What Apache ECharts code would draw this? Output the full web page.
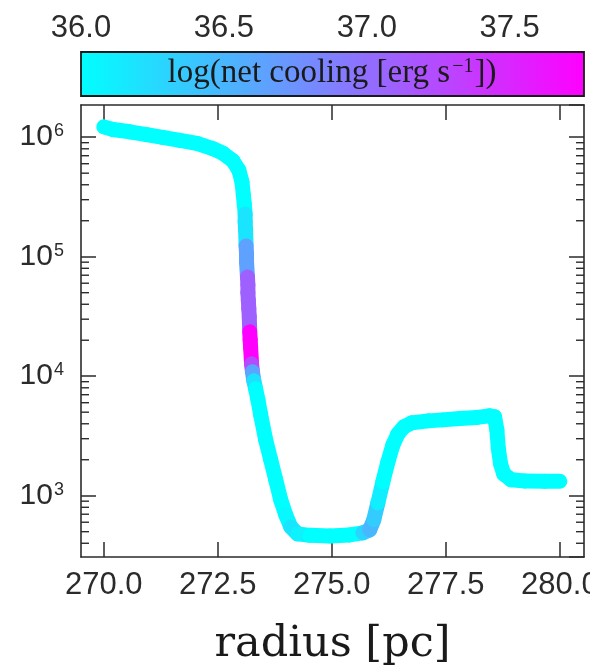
<!DOCTYPE html>
<html>
<head>
<meta charset="utf-8">
<script src="https://cdn.jsdelivr.net/npm/echarts@6.0.0/dist/echarts.min.js"></script>
<style>
  html, body { margin: 0; padding: 0; background: #fff; }
  #chart { width: 590px; height: 670px; }
</style>
</head>
<body>
<div id="chart"></div>
<script>
// radius [pc]
const radius = [
  270.00, 270.20, 270.57, 270.94, 271.29, 271.67, 272.04, 272.39, 272.61, 272.83,
  272.96, 273.03, 273.06, 273.08, 273.10, 273.10, 273.11, 273.12, 273.13, 273.13,
  273.15, 273.16, 273.16, 273.17, 273.18, 273.19, 273.20, 273.21, 273.22, 273.24,
  273.26, 273.29, 273.33, 273.38, 273.44, 273.55, 273.66, 273.77, 273.88, 273.99,
  274.10, 274.25, 274.52, 274.96, 275.39, 275.68, 275.83, 275.92, 276.01, 276.12,
  276.23, 276.34, 276.45, 276.58, 276.75, 277.11, 277.43, 277.81, 278.18, 278.46,
  278.57, 278.62, 278.65, 278.70, 278.77, 278.93, 279.23, 279.67, 280.00
];
// plotted quantity (log y axis)
const yValues = [
  1.22e6, 1.16e6, 1.11e6, 1.05e6, 9.96e5, 9.40e5, 8.87e5, 8.01e5, 7.35e5, 6.36e5,
  5.32e5, 4.23e5, 3.29e5, 2.76e5, 2.28e5, 1.95e5, 1.67e5, 1.23e5, 1.055e5, 9.04e4,
  6.78e4, 5.81e4, 4.98e4, 4.27e4, 3.66e4, 3.13e4, 2.35e4, 2.01e4, 1.73e4, 1.27e4,
  1.09e4, 9.14e3, 7.83e3, 6.34e3, 4.75e3, 2.93e3, 2.00e3, 1.36e3, 923, 690,
  548, 479, 466, 461, 470, 489, 518, 628, 871, 1310,
  1920, 2660, 3290, 3770, 4070, 4230, 4310, 4430, 4520, 4660,
  4570, 3550, 2510, 1850, 1520, 1360, 1330, 1320, 1320
];
// log(net cooling [erg s^-1])
const cooling = [
  36.0, 36.0, 36.0, 36.0, 36.0, 36.0, 36.0, 36.0, 36.0, 36.0,
  36.0, 36.0, 36.0, 36.0, 36.18, 36.18, 36.18, 36.65, 36.65, 36.65,
  37.09, 37.09, 37.09, 37.09, 37.09, 37.09, 37.76, 37.76, 37.76, 37.25,
  36.62, 36.2, 36.0, 36.0, 36.0, 36.0, 36.0, 36.0, 36.0, 36.05,
  36.18, 36.1, 36.0, 36.0, 36.0, 36.3, 36.5, 36.35, 36.12, 36.0,
  36.0, 36.0, 36.0, 36.0, 36.0, 36.0, 36.0, 36.0, 36.0, 36.0,
  36.0, 36.0, 36.0, 36.0, 36.0, 36.0, 36.0, 36.0, 36.0
];

const xRange = [269.5, 280.53];
const yRange = [307, 1.86e6];
const xTicks = [270.0, 272.5, 275.0, 277.5, 280.0];
const yMinor = [
  400, 500, 600, 700, 800, 900,
  2000, 3000, 4000, 5000, 6000, 7000, 8000, 9000,
  2e4, 3e4, 4e4, 5e4, 6e4, 7e4, 8e4, 9e4,
  2e5, 3e5, 4e5, 5e5, 6e5, 7e5, 8e5, 9e5
];
const cbRange = [36.0, 37.76];
const cbTicks = [36.0, 36.5, 37.0, 37.5];

const axisColor = '#2b2b2b';
const textColor = '#2b2b2b';
const sans = 'Liberation Sans';
const serif = 'DejaVu Serif';

// each item: a point, its colour value, and the next point (segment end)
const segments = radius.map((r, i) => {
  const j = Math.min(i + 1, radius.length - 1);
  return [r, yValues[i], cooling[i], radius[j], yValues[j]];
});

const chart = echarts.init(document.getElementById('chart'), null, { renderer: 'canvas' });

const frameLine = { show: true, onZero: false, lineStyle: { color: axisColor, width: 1.6 } };
const majorTick = { show: true, inside: true, length: 15, lineStyle: { color: axisColor, width: 1.5 } };

const option = {
  backgroundColor: '#ffffff',
  animation: false,
  grid: [
    { left: 81, right: 6, top: 105, bottom: 113, outerBoundsMode: 'none' },
    { left: 81, right: 6, top: 52, height: 44, outerBoundsMode: 'none' }
  ],
  xAxis: [
    {
      gridIndex: 0, type: 'value', position: 'bottom',
      min: xRange[0], max: xRange[1],
      axisLine: frameLine,
      axisTick: Object.assign({ customValues: xTicks }, majorTick),
      axisLabel: {
        customValues: xTicks, formatter: v => v.toFixed(1),
        fontFamily: sans, fontSize: 31, color: textColor, margin: 13
      },
      splitLine: { show: false },
      name: 'radius [pc]', nameLocation: 'middle', nameGap: 66,
      nameTextStyle: { fontFamily: serif, fontSize: 43, color: '#1a1a1a' }
    },
    {
      gridIndex: 0, type: 'value', position: 'top',
      min: xRange[0], max: xRange[1],
      axisLine: frameLine,
      axisTick: Object.assign({ customValues: xTicks }, majorTick),
      axisLabel: { show: false },
      splitLine: { show: false }
    },
    {
      gridIndex: 1, type: 'value', position: 'top',
      min: cbRange[0], max: cbRange[1],
      axisLine: { show: false },
      axisTick: { show: false },
      axisLabel: {
        customValues: cbTicks, formatter: v => v.toFixed(1),
        fontFamily: sans, fontSize: 31, color: textColor, margin: 8
      },
      splitLine: { show: false }
    }
  ],
  yAxis: [
    {
      gridIndex: 0, type: 'log', position: 'left',
      min: yRange[0], max: yRange[1],
      axisLine: frameLine,
      axisTick: majorTick,
      minorTick: { show: false },
      axisLabel: {
        showMinLabel: false, showMaxLabel: false, margin: 17,
        formatter: v => {
          const e = Math.log10(v);
          if (Math.abs(e - Math.round(e)) > 1e-6) return '';
          return '{b|10}{s|' + Math.round(e) + '}';
        },
        rich: {
          b: { fontFamily: sans, fontSize: 30, lineHeight: 30, color: textColor, verticalAlign: 'bottom' },
          s: { fontFamily: sans, fontSize: 18, lineHeight: 18, color: textColor, verticalAlign: 'top', padding: [0, 0, 22, 1] }
        }
      },
      splitLine: { show: false }
    },
    {
      gridIndex: 0, type: 'log', position: 'right',
      min: yRange[0], max: yRange[1],
      axisLine: frameLine,
      axisTick: majorTick,
      minorTick: { show: false },
      axisLabel: { show: false },
      splitLine: { show: false }
    },
    { gridIndex: 1, type: 'value', min: 0, max: 1, show: false }
  ],
  visualMap: {
    type: 'continuous', show: false,
    seriesIndex: 0, dimension: 2,
    min: cbRange[0], max: cbRange[1],
    inRange: { color: ['#00ffff', '#ff00ff'] }
  },
  graphic: [
    {
      type: 'text', x: 332, y: 73, z: 100,
      style: {
        text: '{t|log(net cooling [erg s}{u|\u22121}{t|])}',
        align: 'center', verticalAlign: 'middle',
        rich: {
          t: { fontFamily: 'Liberation Serif', fontSize: 33, lineHeight: 33, fill: '#1a1a1a', verticalAlign: 'bottom' },
          u: { fontFamily: 'Liberation Serif', fontSize: 20, lineHeight: 20, fill: '#1a1a1a', verticalAlign: 'top', padding: [0, 1, 16, 2] }
        }
      }
    }
  ],
  series: [
    {
      // thick band, each piece coloured by the net cooling of its start point
      type: 'custom', xAxisIndex: 0, yAxisIndex: 0, silent: true, z: 3,
      dimensions: ['radius', 'value', 'cooling', 'radius1', 'value1'],
      encode: { x: 0, y: 1 },
      data: segments,
      renderItem: (params, api) => {
        const a = api.coord([api.value(0), api.value(1)]);
        const b = api.coord([api.value(3), api.value(4)]);
        return {
          type: 'line',
          shape: { x1: a[0], y1: a[1], x2: b[0], y2: b[1] },
          style: { stroke: api.visual('color'), lineWidth: 15, lineCap: 'round' }
        };
      }
    },
    {
      // minor log ticks on both sides of the frame
      type: 'custom', xAxisIndex: 0, yAxisIndex: 0, silent: true, z: 4,
      data: yMinor.map(v => [xRange[0], v]),
      renderItem: (params, api) => {
        const cs = params.coordSys;
        const y = api.coord([api.value(0), api.value(1)])[1];
        const st = { stroke: axisColor, lineWidth: 1.4 };
        return {
          type: 'group',
          children: [
            { type: 'line', shape: { x1: cs.x, y1: y, x2: cs.x + 8, y2: y }, style: st },
            { type: 'line', shape: { x1: cs.x + cs.width - 8, y1: y, x2: cs.x + cs.width, y2: y }, style: st }
          ]
        };
      }
    },
    {
      // colour bar
      type: 'custom', xAxisIndex: 2, yAxisIndex: 2, silent: true,
      data: [[cbRange[0], cbRange[1]]],
      renderItem: (params, api) => {
        const p0 = api.coord([api.value(0), 0]);
        const p1 = api.coord([api.value(1), 1]);
        return {
          type: 'rect',
          shape: { x: p0[0], y: p1[1], width: p1[0] - p0[0], height: p0[1] - p1[1] },
          style: {
            fill: new echarts.graphic.LinearGradient(0, 0, 1, 0, [
              { offset: 0, color: '#00ffff' },
              { offset: 1, color: '#ff00ff' }
            ]),
            stroke: '#1a1a1a', lineWidth: 1.8
          }
        };
      }
    }
  ]
};

chart.setOption(option);
</script>
</body>
</html>
